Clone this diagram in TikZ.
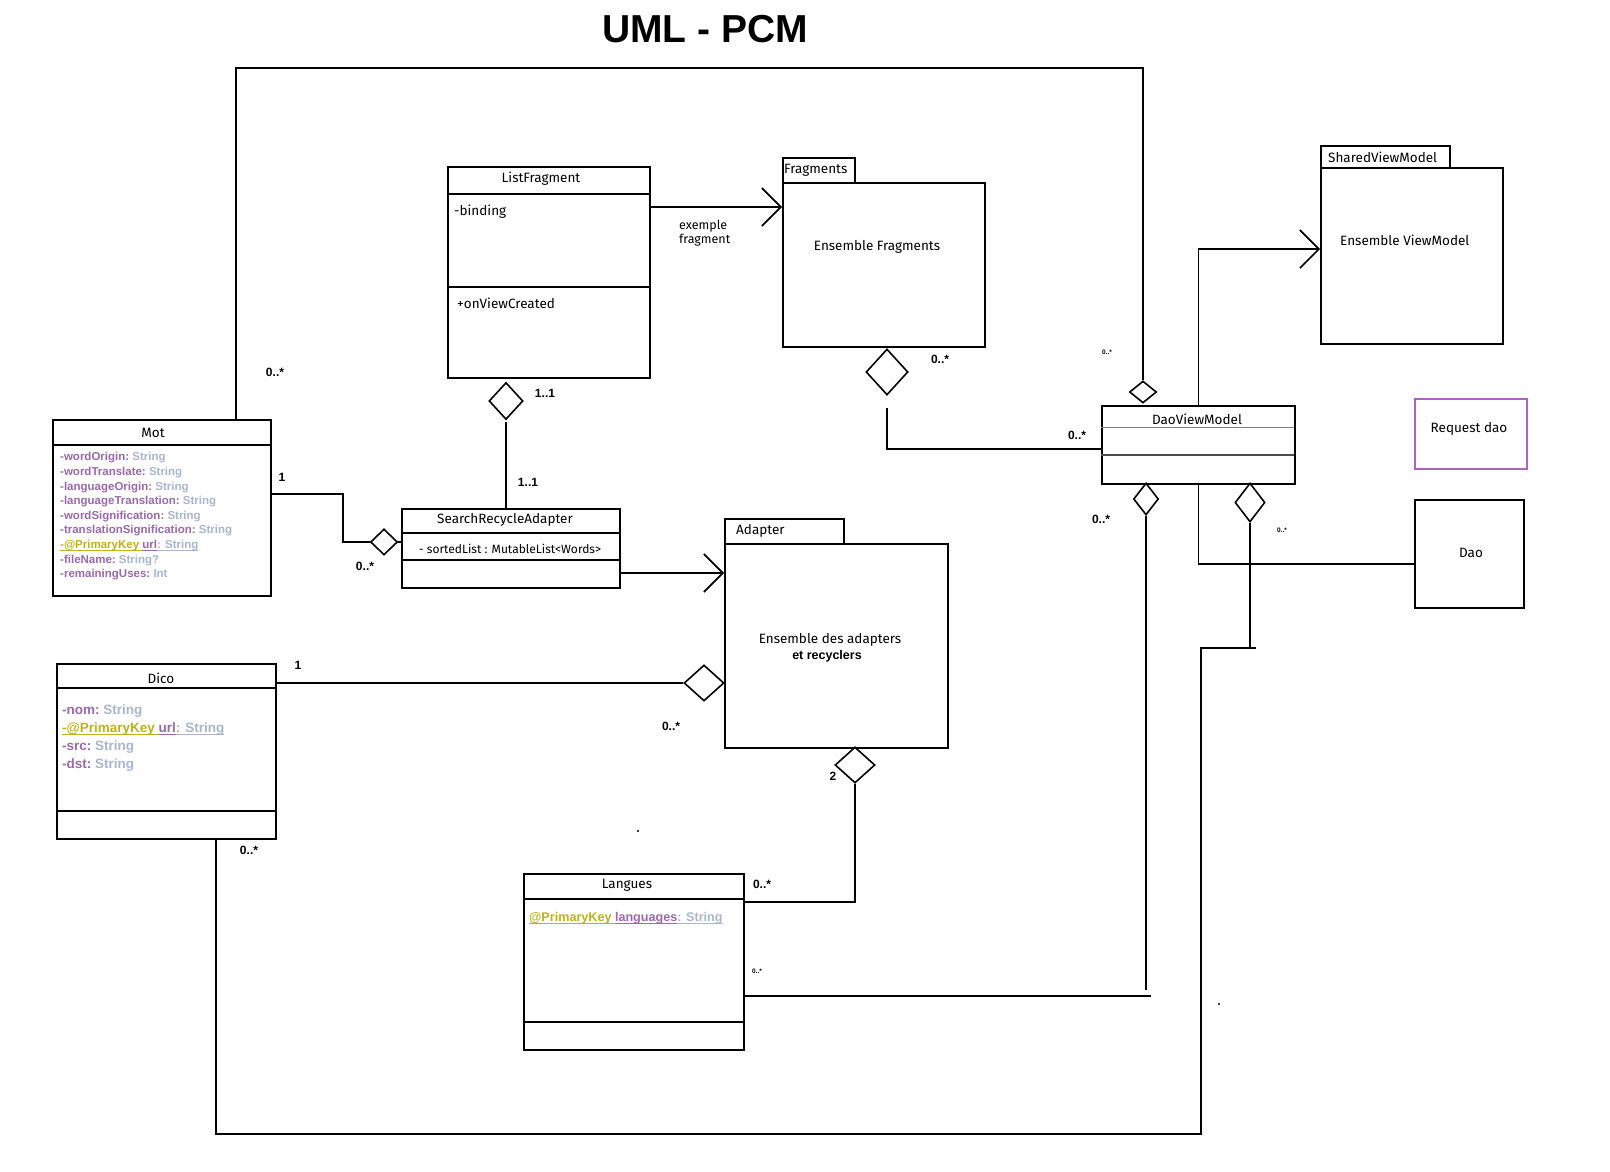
\documentclass[tikz,border=0pt]{standalone}
\usepackage{fontspec}
\setmainfont{Fira Sans}
\newfontfamily\arialfam{Liberation Sans}
\usetikzlibrary{shapes.geometric,arrows.meta}
\definecolor{attrp}{HTML}{9A6AAA}
\definecolor{attrg}{HTML}{A9B6CC}
\definecolor{pkey}{HTML}{BDB21C}
\definecolor{reqp}{HTML}{B060C0}
\newcommand\attrN[2]{{\color{attrp}#1}\ {\color{attrg}#2}}
\newcommand\ulc[2]{{\color{#1}\setbox0\hbox{#2}\rlap{\rule[-2pt]{\wd0}{0.7pt}}\box0}}
\newcommand\motfont{\arialfam\bfseries\fontsize{11.5}{13}\selectfont}
\newcommand\dicofont{\arialfam\bfseries\fontsize{13.5}{15}\selectfont}
\tikzset{
  box/.style={draw, line width=1.6pt, inner sep=0pt, anchor=north west},
  diam/.style={shape=diamond, draw, line width=1.6pt, inner sep=0pt, fill=white},
  conn/.style={line width=1.6pt},
  openarrow/.style={-{Straight Barb[length=19pt,width=38pt]}},
  lbl/.style={inner sep=0pt, font=\fontsize{13.5}{15}\selectfont},
  mult/.style={inner sep=0pt, font=\arialfam\bfseries\fontsize{12}{14}\selectfont},
  smallmult/.style={inner sep=0pt, font=\arialfam\bfseries\fontsize{6.5}{8}\selectfont},
}
\begin{document}
\begin{tikzpicture}[x=1pt,y=-1pt]
\useasboundingbox (0,0) rectangle (1610,1172);
\fill[white] (0,0) rectangle (1610,1172);

% title
\node[inner sep=0pt, font=\arialfam\bfseries\fontsize{39}{44}\selectfont] (title) at (705,29) {UML - PCM};

% ---- boxes
\node[box, minimum width=218pt, minimum height=176pt] (mot) at (52,419) {};
\node[box, minimum width=219pt, minimum height=175pt] (dico) at (56,663) {};
\node[box, minimum width=202pt, minimum height=211pt] (lf) at (447,166) {};
\node[box, minimum width=218pt, minimum height=79pt] (sra) at (401,508) {};
\node[box, minimum width=220pt, minimum height=176pt] (lang) at (523,873) {};
\node[box, minimum width=72pt, minimum height=25pt] (frtab) at (782,157) {};
\node[box, minimum width=202pt, minimum height=164pt] (fr) at (782,182) {};
\node[box, minimum width=119pt, minimum height=25pt] (adtab) at (724,518) {};
\node[box, minimum width=223pt, minimum height=204pt] (ad) at (724,543) {};
\node[box, minimum width=129pt, minimum height=22pt] (svmtab) at (1320,145) {};
\node[box, minimum width=182pt, minimum height=176pt] (svm) at (1320,167) {};
\node[box, minimum width=193pt, minimum height=78pt] (dvm) at (1101,405) {};
\node[box, draw=reqp, minimum width=112pt, minimum height=70pt] (req) at (1414,398) {};
\node[box, minimum width=109pt, minimum height=108pt] (dao) at (1414,499) {};

% separators
\draw[conn] (52,445) -- (272,445);
\draw[conn] (56,688) -- (277,688);
\draw[conn] (56,811) -- (275,811);
\draw[conn] (447,194) -- (651,194);
\draw[conn] (447,287) -- (649,287);
\draw[conn] (401,533) -- (621,533);
\draw[conn] (401,560) -- (619,560);
\draw[conn] (523,899) -- (745,899);
\draw[conn] (523,1022) -- (745,1022);
\draw[line width=0.7pt, gray] (1101,427) -- (1294,427);
\draw[line width=1.2pt, black!70] (1101,455) -- (1294,455);

% ---- box texts
\node[lbl] (motname) at (153,433) {Mot};
\node[anchor=west, inner sep=0pt, font=\motfont] (m1) at (60,458) {\attrN{-wordOrigin:}{String}};
\node[anchor=west, inner sep=0pt, font=\motfont] (m2) at (60,472.6) {\attrN{-wordTranslate:}{String}};
\node[anchor=west, inner sep=0pt, font=\motfont] (m3) at (60,487.2) {\attrN{-languageOrigin:}{String}};
\node[anchor=west, inner sep=0pt, font=\motfont] (m4) at (60,501.8) {\attrN{-languageTranslation:}{String}};
\node[anchor=west, inner sep=0pt, font=\motfont] (m5) at (60,516.4) {\attrN{-wordSignification:}{String}};
\node[anchor=west, inner sep=0pt, font=\motfont] (m6) at (60,531) {\attrN{-translationSignification:}{String}};
\node[anchor=west, inner sep=0pt, font=\motfont] (m7) at (60,545.6) {\ulc{pkey}{-@PrimaryKey }\ulc{attrp}{url}\ulc{attrg}{: String}};
\node[anchor=west, inner sep=0pt, font=\motfont] (m8) at (60,560.2) {\attrN{-fileName:}{String?}};
\node[anchor=west, inner sep=0pt, font=\motfont] (m9) at (60,574.8) {\attrN{-remainingUses:}{Int}};

\node[lbl] (diconame) at (161,678) {Dico};
\node[anchor=west, inner sep=0pt, font=\dicofont] (d1) at (62,711) {\attrN{-nom:}{String}};
\node[anchor=west, inner sep=0pt, font=\dicofont] (d2) at (62,729) {\ulc{pkey}{-@PrimaryKey }\ulc{attrp}{url}\ulc{attrg}{: String}};
\node[anchor=west, inner sep=0pt, font=\dicofont] (d3) at (62,747) {\attrN{-src:}{String}};
\node[anchor=west, inner sep=0pt, font=\dicofont] (d4) at (62,765) {\attrN{-dst:}{String}};

\node[lbl] (lfname) at (541,179) {ListFragment};
\node[lbl, anchor=west] (lfb) at (454,212) {-binding};
\node[lbl, anchor=west] (lfo) at (457,303) {+onViewCreated};

\node[lbl] (sraname) at (505,520) {SearchRecycleAdapter};
\node[inner sep=0pt, font=\fontsize{12}{14}\selectfont] (srasl) at (510,549) {- sortedList : MutableList<Words>};

\node[lbl] (langname) at (627,885) {Langues};
\node[anchor=west, inner sep=0pt, font=\arialfam\bfseries\fontsize{12.6}{14}\selectfont] (langattr) at (529,918) {\ulc{pkey}{@PrimaryKey }\ulc{attrp}{languages}\ulc{attrg}{: String}};

\node[lbl, anchor=west] (frtabt) at (784,170) {Fragments};
\node[lbl] (frt) at (877,247) {Ensemble Fragments};
\node[lbl, anchor=west] (adtabt) at (736,531) {Adapter};
\node[lbl] (adt1) at (830,640) {Ensemble des adapters};
\node[inner sep=0pt, font=\arialfam\bfseries\fontsize{12.5}{14}\selectfont] (adt2) at (827,656) {et recyclers};
\node[lbl, anchor=west] (svmtabt) at (1328,157) {SharedViewModel};
\node[lbl, anchor=west] (svmt) at (1340,240) {Ensemble ViewModel};
\node[lbl] (dvmt) at (1197,419) {DaoViewModel};
\node[lbl] (reqt) at (1469,429) {Request dao};
\node[lbl] (daot) at (1471,553) {Dao};
\node[lbl, anchor=north west, align=left, font=\fontsize{12.5}{14}\selectfont] (exf) at (679,220) {exemple\\fragment};

% ---- diamonds
\node[diam, minimum width=34pt, minimum height=37pt] (dlf) at (506,401) {};
\node[diam, minimum width=27pt, minimum height=26pt] (dsra) at (384,542) {};
\node[diam, minimum width=42pt, minimum height=46pt] (dfr) at (887,372) {};
\node[diam, minimum width=27pt, minimum height=22pt] (ddaot) at (1143,392) {};
\node[diam, minimum width=25pt, minimum height=32pt] (ddaobl) at (1146,499) {};
\node[diam, minimum width=30pt, minimum height=39pt] (ddaobr) at (1250,502.5) {};
\node[diam, minimum width=40pt, minimum height=36pt] (dadl) at (704,683) {};
\node[diam, minimum width=40pt, minimum height=36pt] (dadb) at (855,765) {};

% ---- connectors
\draw[conn] ([xshift=184pt]mot.north west) -- (236,68) -- (1143,68) -- (ddaot.north);
\draw[conn] (mot.east |- 0,494) -- (343,494) |- (dsra.west);
\draw[conn] (dsra.east) -- (sra.west |- dsra.east);
\draw[conn] ([yshift=-2pt]dlf.south) -- (dlf.south |- sra.north);
\draw[conn, openarrow] (lf.east |- 0,207) -- (fr.west |- 0,207);
\draw[conn, openarrow] (sra.east |- 0,573) -- (ad.west |- 0,573);
\draw[conn] (dico.east |- 0,683) -- (dadl.west);
\draw[conn] (dadb.south) |- (lang.east |- 0,902);
\draw[conn] (lang.east |- 0,996) -- (1151,996);
\draw[conn] (ddaobl.south) -- (1146,990);
\draw[conn] (dvm.south) |- (dao.west |- 0,564);
\draw[conn] (ddaobr.south) -- (1250,648);
\draw[conn] (1256,648) -- (1201,648) -- (1201,1134) -- (216,1134) -- ([xshift=160pt]dico.south west);
\draw[conn, openarrow] (dvm.north) |- (svm.west |- 0,249);
\draw[conn] ([yshift=-12pt]dfr.south) |- (dvm.west |- 0,449);

% ---- multiplicities
\node[mult] (m_a) at (275,372) {0..*};
\node[mult] (m_b) at (545,393) {1..1};
\node[mult] (m_c) at (528,482) {1..1};
\node[mult] (m_d) at (282,477) {1};
\node[mult] (m_e) at (365,566) {0..*};
\node[mult] (m_f) at (940,359) {0..*};
\node[smallmult] (m_g) at (1107,352) {0..*};
\node[mult] (m_h) at (1077,435) {0..*};
\node[mult] (m_i) at (1101,519) {0..*};
\node[smallmult] (m_j) at (1282,530) {0..*};
\node[mult] (m_k) at (298,665) {1};
\node[mult] (m_l) at (671,726) {0..*};
\node[mult] (m_m) at (833,776) {2};
\node[mult] (m_n) at (249,850) {0..*};
\node[mult] (m_o) at (762,884) {0..*};
\node[smallmult] (m_p) at (757,971) {0..*};

% stray dots
\fill (638,831) circle (1.1pt);
\fill (1219,1004) circle (1.1pt);
\end{tikzpicture}
\end{document}
